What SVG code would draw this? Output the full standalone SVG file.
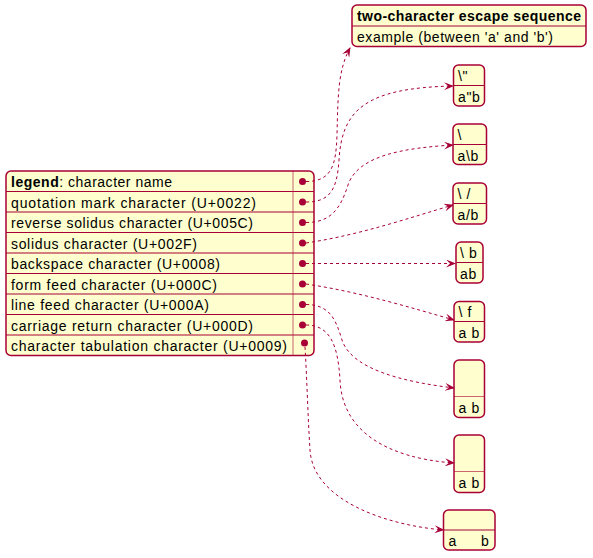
<svg xmlns="http://www.w3.org/2000/svg" width="593" height="558" viewBox="0 0 593 558">
  <style>
    .box { fill: #FEFECE; stroke: #A80036; stroke-width: 1.5; }
    .sep { stroke: #A80036; stroke-width: 1; fill: none; }
    .col { stroke: #A80036; stroke-width: 1; stroke-opacity: 0.6; fill: none; }
    .t { font-family: "Liberation Sans", Arial, sans-serif; font-size: 14px; fill: #000; }
    .s { letter-spacing: 0.6px; }
    .b { font-weight: bold; }
    .dot { fill: #A80036; }
    .link { fill: none; stroke: #A80036; stroke-width: 1; stroke-dasharray: 3 3; marker-end: url(#arrow); }
  </style>
  <defs>
    <marker id="arrow" viewBox="0 0 10 8" refX="9" refY="4" markerWidth="10" markerHeight="8" markerUnits="userSpaceOnUse" orient="auto">
      <path d="M0,0 L10,4 L0,8 L4,4 Z" fill="#A80036"/>
    </marker>
  </defs>

  <!-- legend table -->
  <g id="legend">
    <rect class="box" x="6" y="171" width="308" height="184.5" rx="5"/>
    <line class="col" x1="293" y1="171" x2="293" y2="355.5"/>
    <line class="sep" x1="6" y1="191.5" x2="314" y2="191.5"/>
    <line class="sep" x1="6" y1="212" x2="314" y2="212"/>
    <line class="sep" x1="6" y1="232.5" x2="314" y2="232.5"/>
    <line class="sep" x1="6" y1="253" x2="314" y2="253"/>
    <line class="sep" x1="6" y1="273.5" x2="314" y2="273.5"/>
    <line class="sep" x1="6" y1="294" x2="314" y2="294"/>
    <line class="sep" x1="6" y1="314.5" x2="314" y2="314.5"/>
    <line class="sep" x1="6" y1="335" x2="314" y2="335"/>
    <text class="t" x="11" y="187" textLength="161" lengthAdjust="spacing"><tspan class="b">legend</tspan>: character name</text>
    <text class="t" x="11" y="207.5" textLength="245" lengthAdjust="spacing">quotation mark character (U+0022)</text>
    <text class="t" x="11" y="228" textLength="242" lengthAdjust="spacing">reverse solidus character (U+005C)</text>
    <text class="t" x="11" y="248.5" textLength="186" lengthAdjust="spacing">solidus character (U+002F)</text>
    <text class="t" x="11" y="269" textLength="209" lengthAdjust="spacing">backspace character (U+0008)</text>
    <text class="t" x="11" y="289.5" textLength="206" lengthAdjust="spacing">form feed character (U+000C)</text>
    <text class="t" x="11" y="310" textLength="198" lengthAdjust="spacing">line feed character (U+000A)</text>
    <text class="t" x="11" y="330.5" textLength="242" lengthAdjust="spacing">carriage return character (U+000D)</text>
    <text class="t" x="11" y="351" textLength="276" lengthAdjust="spacing">character tabulation character (U+0009)</text>
    <circle class="dot" cx="302.5" cy="181.5" r="3.5"/>
    <circle class="dot" cx="302.5" cy="202" r="3.5"/>
    <circle class="dot" cx="302.5" cy="222.5" r="3.5"/>
    <circle class="dot" cx="302.5" cy="243" r="3.5"/>
    <circle class="dot" cx="302.5" cy="263.5" r="3.5"/>
    <circle class="dot" cx="302.5" cy="284" r="3.5"/>
    <circle class="dot" cx="302.5" cy="304.5" r="3.5"/>
    <circle class="dot" cx="302.5" cy="325" r="3.5"/>
    <circle class="dot" cx="304.5" cy="343" r="3.5"/>
  </g>

  <!-- header entry -->
  <g id="sequence">
    <rect class="box" x="352" y="5" width="234" height="41.5" rx="5"/>
    <line class="sep" x1="352" y1="26" x2="586" y2="26"/>
    <text class="t b" x="357" y="21" textLength="224" lengthAdjust="spacing">two-character escape sequence</text>
    <text class="t" x="357" y="41.5" textLength="196" lengthAdjust="spacing">example (between 'a' and 'b')</text>
  </g>

  <g id="quote">
    <rect class="box" x="453.5" y="65" width="31" height="41" rx="5"/>
    <line class="sep" x1="453.5" y1="85.5" x2="484.5" y2="85.5"/>
    <text class="t s" x="458" y="81">\"</text>
    <text class="t s" x="458" y="101.5">a"b</text>
  </g>

  <g id="reverse-solidus">
    <rect class="box" x="453" y="124" width="33.5" height="40.5" rx="5"/>
    <line class="sep" x1="453" y1="144.5" x2="486.5" y2="144.5"/>
    <text class="t s" x="457.5" y="140">\</text>
    <text class="t s" x="457.5" y="160.5">a\b</text>
  </g>

  <g id="solidus">
    <rect class="box" x="453" y="183" width="33.5" height="41" rx="5"/>
    <line class="sep" x1="453" y1="203.5" x2="486.5" y2="203.5"/>
    <text class="t s" x="457.5" y="199">\ /</text>
    <text class="t s" x="457.5" y="219.5">a/b</text>
  </g>

  <g id="backspace">
    <rect class="box" x="456" y="242" width="27" height="41" rx="5"/>
    <line class="sep" x1="456" y1="262.5" x2="483" y2="262.5"/>
    <text class="t s" x="460" y="258">\ b</text>
    <text class="t s" x="460" y="278.5">ab</text>
  </g>

  <g id="form-feed">
    <rect class="box" x="454" y="301.5" width="30.5" height="40.5" rx="5"/>
    <line class="sep" x1="454" y1="321.5" x2="484.5" y2="321.5"/>
    <text class="t s" x="458.5" y="317">\ f</text>
    <text class="t s" x="458.5" y="337.5">a b</text>
  </g>

  <g id="line-feed">
    <rect class="box" x="454" y="360" width="30.5" height="57.5" rx="5"/>
    <line class="col" x1="454" y1="396.5" x2="484.5" y2="396.5"/>
    <text class="t s" x="458.5" y="413">a b</text>
  </g>

  <g id="carriage-return">
    <rect class="box" x="454" y="435" width="30.5" height="57.5" rx="5"/>
    <line class="col" x1="454" y1="471.5" x2="484.5" y2="471.5"/>
    <text class="t s" x="458.5" y="488">a b</text>
  </g>

  <g id="tabulation">
    <rect class="box" x="443.5" y="510" width="51.5" height="40" rx="5"/>
    <line class="sep" x1="443.5" y1="530" x2="495" y2="530"/>
    <text class="t" y="546"><tspan x="448.5">a</tspan><tspan x="481">b</tspan></text>
  </g>

  <!-- connectors -->
  <g id="links">
    <path class="link" d="M306,181.5 C332,181.5 336,165 337,135 C338,95 338,70 350,48"/>
    <path class="link" d="M306,202 C330,202 337,190 339,160 C342,110 365,88 453,86"/>
    <path class="link" d="M306,222.5 C330,222.5 340,210 348,185 C358,155 405,148 453,145"/>
    <path class="link" d="M306,243 C360,235 412,217 453,205"/>
    <path class="link" d="M306,263.5 L455,263.5"/>
    <path class="link" d="M306,284 C360,292 412,308 454,320"/>
    <path class="link" d="M306,304.5 C330,304.5 336,320 342,340 C352,370 405,382 454,388"/>
    <path class="link" d="M306,325 C330,325 338,345 340,380 C342,430 385,458 454,463"/>
    <path class="link" d="M305,347 C307,380 308,420 310,450 C313,500 385,525 443.5,530"/>
  </g>
</svg>
